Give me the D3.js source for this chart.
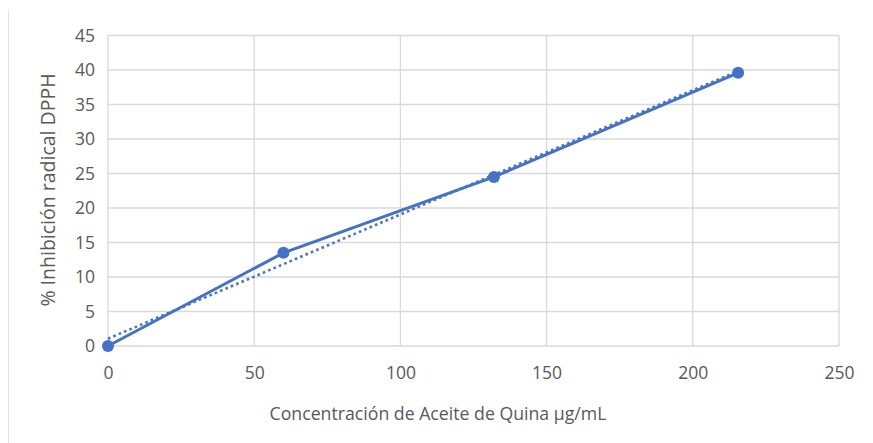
<!DOCTYPE html>
<html><head><meta charset="utf-8">
<script src="https://cdn.jsdelivr.net/npm/d3@7"></script>
<style>body{margin:0;background:#fff}text{font-family:"Open Sans",sans-serif}</style>
</head><body>
<svg id="c" width="873" height="443"></svg>
<script>
const concentrations = [0, 60, 132, 215.5];
const inhibition = [0, 13.5, 24.5, 39.6];
const xTicks = [0, 50, 100, 150, 200, 250];
const yTicks = [0, 5, 10, 15, 20, 25, 30, 35, 40, 45];
const xTitle = "Concentración de Aceite de Quina µg/mL";
const yTitle = "% Inhibición radical DPPH";

const svg = d3.select("#c");
const blue = "#4472C4";
const x = d3.scaleLinear().domain([0,250]).range([108,839]);
const y = d3.scaleLinear().domain([0,45]).range([346,35.5]);

svg.append("line").attr("x1",8.5).attr("x2",8.5).attr("y1",10).attr("y2",443).attr("stroke","#e4e4e4");

const g = svg.append("g");
g.selectAll(".gy").data(yTicks).join("line").attr("x1",x(0)).attr("x2",x(250))
  .attr("y1",d=>y(d)).attr("y2",d=>y(d)).attr("stroke","#d9d9d9").attr("stroke-width",1.3);
g.selectAll(".gx").data(xTicks).join("line").attr("y1",y(0)).attr("y2",y(45))
  .attr("x1",d=>x(d)).attr("x2",d=>x(d)).attr("stroke","#d9d9d9").attr("stroke-width",1.3);

const xa = svg.append("g").attr("transform",`translate(0,${y(0)})`).call(d3.axisBottom(x).tickValues(xTicks).tickSize(0).tickPadding(21));
xa.select(".domain").remove();
xa.selectAll("text").attr("font-size",17.5).attr("fill","#595959");
const ya = svg.append("g").attr("transform",`translate(${x(0)},0)`).call(d3.axisLeft(y).tickValues(yTicks).tickSize(0).tickPadding(13));
ya.select(".domain").remove();
ya.selectAll("text").attr("font-size",17.5).attr("fill","#595959");

svg.append("text").attr("x",438).attr("y",420).attr("text-anchor","middle").attr("font-size",17.7).attr("fill","#595959").text(xTitle);
svg.append("text").attr("transform",`translate(55,190) rotate(-90)`).attr("text-anchor","middle").attr("font-size",19.5).attr("fill","#595959").text(yTitle);

// linear trendline (least squares)
const n = concentrations.length;
const mx = d3.mean(concentrations), my = d3.mean(inhibition);
let sxy=0,sxx=0;
for(let i=0;i<n;i++){sxy+=(concentrations[i]-mx)*(inhibition[i]-my);sxx+=(concentrations[i]-mx)**2;}
const slope=sxy/sxx, icpt=my-slope*mx;
const x0=d3.min(concentrations), x1=d3.max(concentrations);
svg.append("line").attr("x1",x(x0)).attr("y1",y(icpt+slope*x0)).attr("x2",x(x1)).attr("y2",y(icpt+slope*x1))
  .attr("stroke",blue).attr("stroke-width",2.6).attr("stroke-dasharray","2.6,3.2");

const pts = concentrations.map((c,i)=>[c,inhibition[i]]);
svg.append("path").datum(pts).attr("d",d3.line().x(d=>x(d[0])).y(d=>y(d[1])))
  .attr("fill","none").attr("stroke",blue).attr("stroke-width",3);
svg.selectAll(".pt").data(pts).join("circle").attr("cx",d=>x(d[0])).attr("cy",d=>y(d[1])).attr("r",6).attr("fill",blue);
</script></body></html>
